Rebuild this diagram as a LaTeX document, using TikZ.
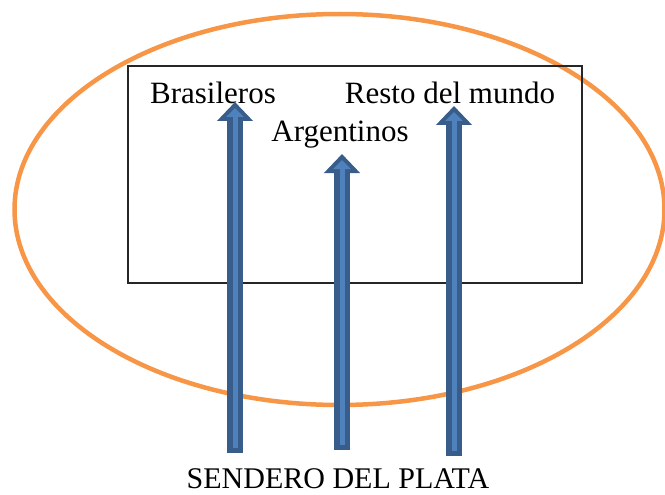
\documentclass[tikz,border=0pt]{standalone}
\usepackage{fontspec}
\setmainfont{Liberation Serif}
\usetikzlibrary{arrows.meta}
\definecolor{ringorange}{HTML}{F79646}
\definecolor{arrowdark}{HTML}{385D8A}
\definecolor{arrowlight}{HTML}{4F81BD}
\tikzstyle{ring} = [draw=ringorange, line width=4.5pt]
\tikzstyle{caja} = [draw=black!85, line width=1.2pt]
\tikzstyle{tag} = [inner sep=0pt, anchor=base,
font=\fontsize{31}{37}\selectfont]
\tikzstyle{shaft} = [draw=arrowdark, line width=16pt,
-{Triangle[width=35pt,length=19pt]}]
\tikzstyle{core} = [draw=arrowlight, line width=5pt,
shorten <=5pt, shorten >=6pt,
-{Triangle[width=17pt,length=9pt]}]

\begin{document}
\begin{tikzpicture}[x=1pt, y=-1pt]
        \useasboundingbox (0,0) rectangle (665,495);
        % outer ring and box
        \draw [ring] (339.5,209.5) ellipse [x radius=325, y radius=195.5];
        \draw [caja] (128,66) rectangle (582,283);
        % labels
        \node (bras) [tag] at (213,104) {Brasileros};
        \node (resto) [tag] at (450,104) {Resto del mundo};
        \node (arg) [tag] at (340,142) {Argentinos};
        \node (sendero) [tag, font=\fontsize{30}{36}\selectfont] at (338,488) {SENDERO DEL PLATA};
        % arrow ends
        \coordinate (srcA) at (235,453);
        \coordinate (tipA) at (235,102);
        \coordinate (srcB) at (342,450);
        \coordinate (tipB) at (342,154);
        \coordinate (srcC) at (454,456);
        \coordinate (tipC) at (454,106);
        \foreach \s/\t in {srcA/tipA, srcB/tipB, srcC/tipC} {
            \draw [shaft] (\s) -- (\t);
            \draw [core] (\s) -- (\t);
        }
    \end{tikzpicture}
\end{document}
